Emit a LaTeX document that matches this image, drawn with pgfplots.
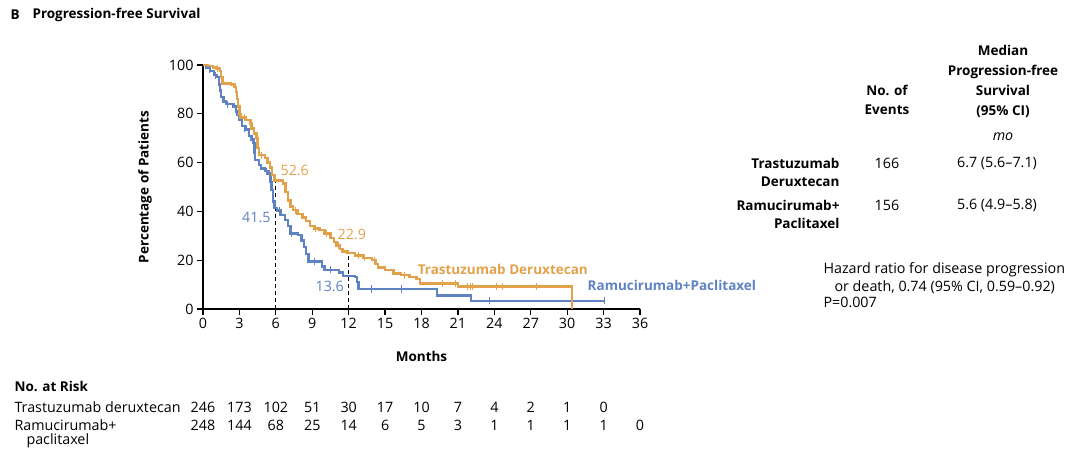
\documentclass[border=0pt]{standalone}
\usepackage{pgfplots}
\pgfplotsset{compat=1.18}
\usepackage{fontspec}
\setmainfont{Open Sans}

\definecolor{tdorange}{RGB}{226,162,76}
\definecolor{rpblue}{RGB}{95,130,195}
\newcommand{\fs}{\fontsize{14.3}{19}\selectfont}
\newcommand{\fb}{\fontsize{13.5}{19}\selectfont\bfseries}

% Kaplan-Meier estimates (months, percent)
\pgfplotstableread{
t s
0 100
0.4 99.5
0.8 99
1.1 98.5
1.4 97.5
1.5 95
1.6 92.5
2.3 92
2.6 91
2.7 89
2.8 86
2.9 83
3.0 80
3.1 78.5
3.5 77.5
3.9 76
4.0 74
4.2 72
4.4 70
4.5 66
4.6 63
5.1 62
5.3 60
5.5 58
5.7 55
5.9 52.6
6.6 51.5
6.8 48
7.0 44.5
7.2 42
7.4 40.5
7.8 39
8.2 37.5
8.5 36
8.8 34
9.2 33
9.6 32.3
10.0 31
10.5 29
10.8 27.5
11.0 26
11.3 24.5
11.5 23.5
11.9 22.9
12.5 22
13.2 21
13.9 20
14.2 18.5
14.4 17
15.0 16
15.7 14.5
16.3 13.9
17.0 13
17.6 12.2
17.9 10.5
21.0 9.3
30.4 0
}\tdx

\pgfplotstableread{
t s
0 100
0.3 99
0.6 97.5
0.9 96
1.1 95
1.3 92
1.4 89.5
1.5 87
1.7 85
1.9 84
2.5 83
2.7 81
2.8 79.5
3.0 77.5
3.2 75
3.5 73.5
3.8 71
4.0 69.5
4.15 68
4.25 64
4.3 61
4.6 59
4.8 57.6
5.1 56.5
5.4 55.5
5.55 52
5.65 48.8
5.75 44
5.9 41.5
6.1 40.3
6.4 38.5
6.75 36.5
7.0 34
7.2 31
7.85 30.3
8.1 28
8.3 25.5
8.5 22.5
8.7 19.5
9.8 17.5
10.0 16
11.2 15
11.55 13.6
12.5 13.2
12.7 11
12.8 8.2
19.3 5.5
22.1 3.4
33.1 3.4
}\ramp

\begin{document}
\begin{tikzpicture}[x=1pt,y=1pt]
\path[use as bounding box] (0,0) rectangle (1080,-459);

\begin{axis}[
  at={(203pt,-309pt)}, anchor=south west,
  scale only axis, width=437pt, height=244pt,
  xmin=0, xmax=36, ymin=0, ymax=100,
  axis lines=left,
  axis line style={-, line width=1.2pt},
  xtick={0,3,...,36}, ytick={0,20,...,100},
  tick align=outside, major tick length=6pt,
  tick style={black, line width=1.2pt},
  tick label style={font=\fs},
  /pgf/number format/assume math mode=true,
  clip=false,
]
\addplot[black, line width=1pt, dash pattern=on 4pt off 3pt] coordinates {(6,0) (6,52.6)};
\addplot[black, line width=1pt, dash pattern=on 4pt off 3pt] coordinates {(12,0) (12,22.9)};

\addplot[const plot mark left, rpblue, line width=2.4pt, no marks] table[x=t,y=s] {\ramp};
\addplot[const plot mark left, tdorange, line width=2.4pt, no marks] table[x=t,y=s] {\tdx};

% censoring marks
\addplot[only marks, mark=|, mark size=3.5pt, rpblue, line width=1pt] coordinates {
(0.5,98.2) (1.0,95.5) (2.0,84) (3.4,74) (5.2,56.5) (6.3,40.3) (7.3,31) (9.2,19.5)
(10.5,16) (13.9,8.2) (16.35,8.2) (23.6,3.4) (33.1,3.4)};
\addplot[only marks, mark=|, mark size=3.5pt, tdorange, line width=1pt] coordinates {
(1.2,98.5) (3.4,78.5) (4.8,63) (7.6,40.5) (9.3,33) (10.2,31) (11.2,26) (12.8,22)
(13.3,21) (14.1,20) (16.6,13.9) (19.7,10.5) (20.8,10.5) (21.8,9.3) (22.0,9.3)
(22.2,9.3) (24.2,9.3) (24.7,9.3) (27.5,9.3)};

\node[anchor=west, text=tdorange, font=\fs] at (axis cs:6.1,57) {52.6};
\node[anchor=east, text=rpblue, font=\fs] at (axis cs:5.85,37.7) {41.5};
\node[anchor=west, text=tdorange, font=\fs] at (axis cs:10.8,30.7) {22.9};
\node[anchor=east, text=rpblue, font=\fs] at (axis cs:11.9,9.4) {13.6};
\node[anchor=west, text=tdorange, font=\fb] at (axis cs:17.4,16.4) {Trastuzumab Deruxtecan};
\node[anchor=west, text=rpblue, font=\fb] at (axis cs:31.4,9.8) {Ramucirumab+Paclitaxel};
\end{axis}

% title and axis labels
\node[anchor=west, font=\fb] at (7,-15) {B};
\node[anchor=west, font=\fb] at (29,-15) {Progression-free Survival};
\node[rotate=90, font=\fb] at (145,-187) {Percentage of Patients};
\node[font=\fb] at (421.5,-356.5) {Months};

% right-hand table
\node[align=center, font=\fontsize{13.5}{20}\selectfont\bfseries] at (1003,-81) {Median\\Progression-free\\Survival\\(95\% CI)};
\node[align=center, font=\fontsize{13.5}{19.5}\selectfont\bfseries] at (887,-100) {No. of\\Events};
\node[font=\fs\itshape] at (1003,-137) {mo};
\node[align=right, anchor=east, font=\fontsize{13.5}{18.5}\selectfont\bfseries] at (843,-172.5) {Trastuzumab\\Deruxtecan};
\node[align=right, anchor=east, font=\fontsize{13.5}{18.5}\selectfont\bfseries] at (843,-214.5) {Ramucirumab+\\Paclitaxel};
\node[font=\fs] at (887,-163) {166};
\node[font=\fs] at (997,-163) {6.7 (5.6--7.1)};
\node[font=\fs] at (887,-205) {156};
\node[font=\fs] at (997,-205) {5.6 (4.9--5.8)};

\node[anchor=west, font=\fs] at (820,-270) {Hazard ratio for disease progression};
\node[anchor=west, font=\fs] at (831,-287) {or death, 0.74 (95\% CI, 0.59--0.92)};
\node[anchor=west, font=\fs] at (820,-302) {P=0.007};

% number at risk
\node[anchor=west, font=\fb] at (11,-386) {No. at Risk};
\node[anchor=west, font=\fs] at (11,-407) {Trastuzumab deruxtecan};
\node[anchor=west, font=\fs] at (11,-425) {Ramucirumab+};
\node[anchor=west, font=\fs] at (23,-441) {paclitaxel};
\foreach \v [count=\i from 0] in {246,173,102,51,30,17,10,7,4,2,1,0}
  \node[font=\fs] at (203+36.42*\i,-407) {\v};
\foreach \v [count=\i from 0] in {248,144,68,25,14,6,5,3,1,1,1,1,0}
  \node[font=\fs] at (203+36.42*\i,-425) {\v};
\end{tikzpicture}
\end{document}
